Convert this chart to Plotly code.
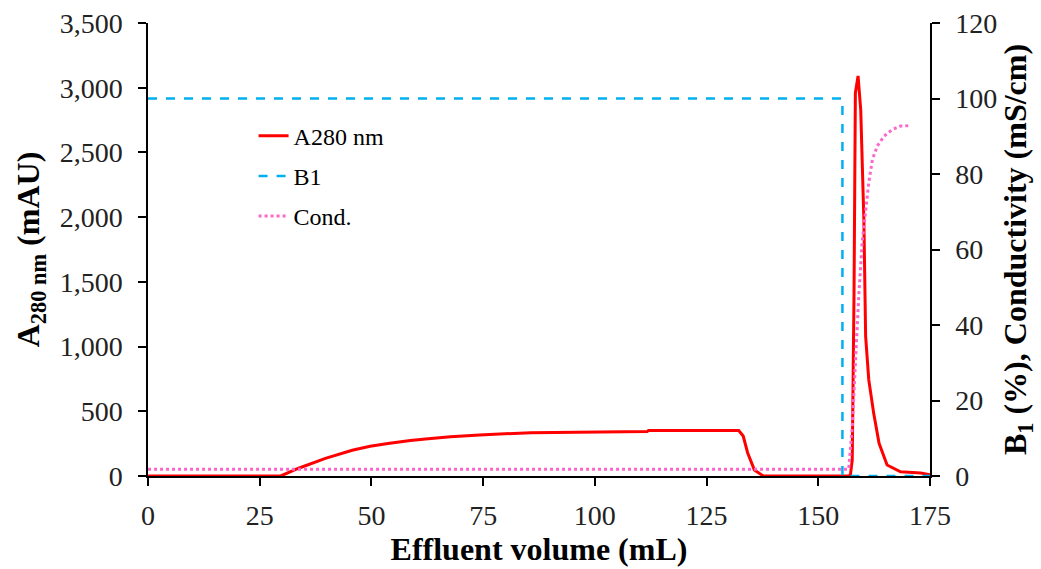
import plotly.graph_objects as go

# A280 (mAU), left axis
a280_x = [0, 29.7, 33.7, 39.7, 45.7, 49.7, 53.7, 58.7, 62.7, 67.7, 74.2, 85.7, 111.7, 112.0,
          132.2, 133.2, 134.2, 135.7, 137.7, 156.8, 157.2, 157.6, 158.0, 158.3, 158.9,
          159.5, 160.2, 160.6, 161.3, 162.4, 163.6, 165.4, 168.4, 172.9, 175]
a280_y = [0, 0, 60, 136, 199, 230, 251, 275, 288, 304, 317, 335, 343, 351,
          351, 309, 178, 47, 0, 0, 10, 124, 1414, 2960, 3091,
          2828, 1978, 1076, 742, 484, 253, 85, 33, 23, 10]

# B1 (%), right axis
b1_x = [0, 155.4, 155.4, 175]
b1_y = [100, 100, 0, 0]

# Conductivity (mS/cm), right axis
cond_x = [0, 156.8, 157.6, 158.3, 159.1, 159.8, 160.6, 161.3, 162.1, 163.2, 164.7, 166.6, 168.4, 170.6]
cond_y = [1.8, 1.8, 13, 30.8, 48.5, 61.7, 70.6, 77.7, 83.8, 87.4, 90, 91.8, 92.7, 92.8]

x_ticks = [0, 25, 50, 75, 100, 125, 150, 175]
left_ticks = [0, 500, 1000, 1500, 2000, 2500, 3000, 3500]
right_ticks = [0, 20, 40, 60, 80, 100, 120]

FONT = "Liberation Serif, Times New Roman, serif"
TICK_SIZE = 28
TITLE_SIZE = 32

fig = go.Figure()
fig.add_trace(go.Scatter(x=a280_x, y=a280_y, mode="lines", name="A280 nm", legendgroup="a",
                         line=dict(color="#FF0000", width=3), yaxis="y"))
fig.add_trace(go.Scatter(x=b1_x, y=b1_y, mode="lines", name="B1", legendgroup="b",
                         line=dict(color="#00B0F0", width=2.5, dash="dash"), yaxis="y2"))
fig.add_trace(go.Scatter(x=cond_x, y=cond_y, mode="lines", name="Cond.", legendgroup="c",
                         line=dict(color="#FF66CC", width=3, dash="dot"), yaxis="y2"))

axis_common = dict(showgrid=False, zeroline=False, showline=True, linecolor="black",
                   linewidth=1.5, ticks="outside", ticklen=8, tickcolor="black",
                   tickwidth=1.5, automargin=False,
                   tickfont=dict(family=FONT, size=TICK_SIZE, color="#222222"))

fig.update_layout(
    width=1041, height=569,
    margin=dict(l=148, r=111, t=23, b=93),
    plot_bgcolor="white", paper_bgcolor="white",
    font=dict(family=FONT, color="black"),
    xaxis=dict(range=[0, 175], tickvals=x_ticks, ticklabelstandoff=6,
               title=dict(text="<b>Effluent volume (mL)</b>", font=dict(family=FONT, size=TITLE_SIZE), standoff=0),
               **axis_common),
    yaxis=dict(range=[0, 3500], tickvals=left_ticks, tickformat=",", ticklabelstandoff=10,
               title=dict(text="<b>A<sub>280 nm</sub> (mAU)</b>", font=dict(family=FONT, size=TITLE_SIZE), standoff=10),
               **axis_common),
    yaxis2=dict(range=[0, 120], tickvals=right_ticks, overlaying="y", side="right", ticklabelstandoff=10,
                title=dict(text="<b>B<sub>1</sub> (%), Conductivity (mS/cm)</b>", font=dict(family=FONT, size=TITLE_SIZE), standoff=6),
                **axis_common),
    legend=dict(x=0.135, y=0.8, xanchor="left", yanchor="top",
                bgcolor="rgba(0,0,0,0)", font=dict(family=FONT, size=24),
                tracegroupgap=6),
    showlegend=True,
)

fig.write_html("out.html")
